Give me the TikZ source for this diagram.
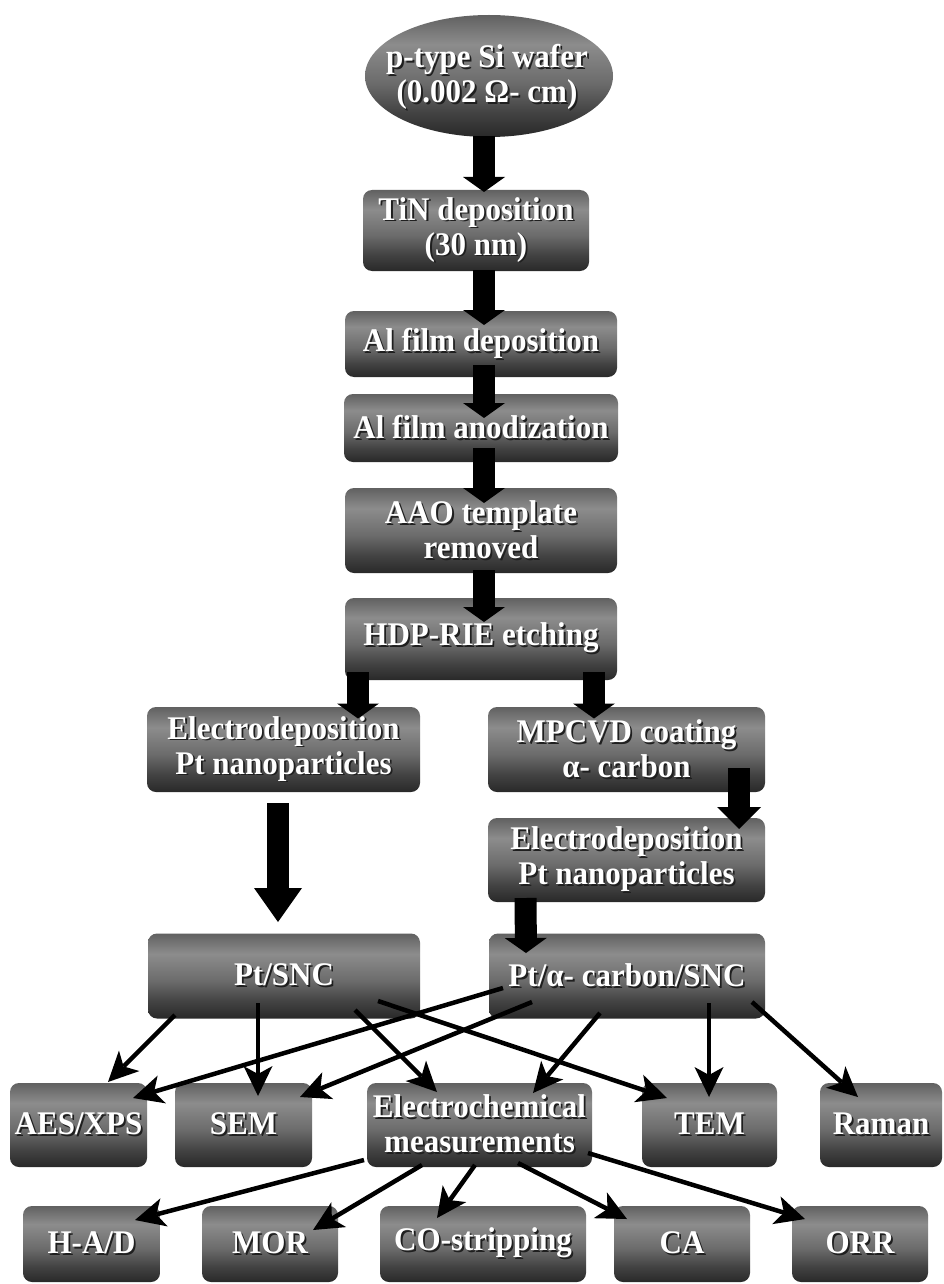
\documentclass[tikz,border=0pt]{standalone}
\usepackage{fontspec}
\setmainfont{Liberation Serif}[FakeStretch=0.94]
\usetikzlibrary{arrows.meta,calc}

% grey levels of the box shading (bottom to top)
\definecolor{shA}{gray}{0.16}
\definecolor{shB}{gray}{0.26}
\definecolor{shC}{gray}{0.42}
\definecolor{shD}{gray}{0.55}
\definecolor{shE}{gray}{0.38}
\definecolor{txtshadow}{gray}{0.12}
\pgfdeclareverticalshading{boxshade}{100bp}{color(0bp)=(shA); color(25bp)=(shA); color(35bp)=(shB); color(47bp)=(shC); color(63bp)=(shD); color(75bp)=(shE); color(100bp)=(shE)}

% white lettering with a dark drop shadow
\newcommand\sh[1]{\makebox[0pt][l]{\kern1.8pt\raisebox{-1.8pt}{\color{txtshadow}#1}}#1}

\tikzset{
  lbl/.style={text=white, font=\bfseries\fontsize{33}{35}\selectfont, align=center, inner sep=0pt},
  box/.style={lbl, rectangle, rounded corners=9pt, shading=boxshade},
  big/.style={line width=22pt, -{Triangle[width=42pt,length=15pt,line width=0pt]}},
  bigm/.style={line width=22pt, -{Triangle[width=44pt,length=22pt,line width=0pt]}},
  bigl/.style={line width=22pt, -{Triangle[width=48pt,length=34pt,line width=0pt]}},
  thin/.style={line width=4.5pt, -{Stealth[length=30pt,width=29pt,inset=8pt,line width=0pt]}}
}

\begin{document}
\begin{tikzpicture}[x=1pt,y=-1pt]
\useasboundingbox (0,0) rectangle (944,1284);
\fill[white] (0,0) rectangle (944,1284);

% starting wafer
\shade[shading=boxshade] (489,76) ellipse [x radius=124pt, y radius=61pt];
\node[lbl] (wafer) at (487,78) {\sh{p-type Si wafer}\\\sh{(0.002 Ω- cm)}};

% process chain
\node[box, minimum width=226pt, minimum height=81pt] (tin)   at (476,230.5) {\sh{TiN deposition}\\\sh{(30 nm)}};
\node[box, minimum width=272pt, minimum height=66pt] (aldep) at (481,344)   {\sh{Al film deposition}};
\node[box, minimum width=274pt, minimum height=68pt] (alano) at (481,428)   {\sh{Al film anodization}};
\node[box, minimum width=272pt, minimum height=85pt] (aao)   at (481,530.5) {\sh{AAO template}\\\sh{removed}};
\node[box, minimum width=272pt, minimum height=82pt] (hdp)   at (481,639)   {\sh{HDP-RIE etching}};

\node[box, minimum width=273pt, minimum height=85pt] (ed1)   at (283.5,749.5) {\sh{Electrodeposition}\\\sh{Pt nanoparticles}};
\node[box, minimum width=277pt, minimum height=85pt] (mpcvd) at (626.5,749.5) {\sh{MPCVD coating}\\\sh{α- carbon}};
\node[box, minimum width=277pt, minimum height=84pt] (ed2)   at (626.5,860)   {\sh{Electrodeposition}\\\sh{Pt nanoparticles}};

\node[box, minimum width=272pt, minimum height=85pt] (ptsnc) at (284,976)   {\sh{Pt/SNC}};
\node[box, minimum width=276pt, minimum height=85pt] (ptac)  at (627,976) {\sh{Pt/α- carbon/SNC}};

% characterisation
\node[box, minimum width=137pt, minimum height=84pt] (aes)   at (78.5,1125)  {\sh{AES/XPS}};
\node[box, minimum width=137pt, minimum height=84pt] (sem)   at (243.5,1125) {\sh{SEM}};
\node[box, minimum width=225pt, minimum height=84pt] (ec)    at (479.5,1125) {\sh{Electrochemical}\\\sh{measurements}};
\node[box, minimum width=135pt, minimum height=84pt] (tem)   at (709.5,1125) {\sh{TEM}};
\node[box, minimum width=122pt, minimum height=84pt] (raman) at (881,1125)   {\sh{Raman}};

\node[box, minimum width=137pt, minimum height=76pt] (had) at (91.5,1244) {\sh{H-A/D}};
\node[box, minimum width=136pt, minimum height=76pt] (mor) at (270,1244)  {\sh{MOR}};
\node[box, minimum width=206pt, minimum height=76pt] (co)  at (483,1244)  {\sh{CO-stripping}};
\node[box, minimum width=136pt, minimum height=76pt] (ca)  at (682,1244)  {\sh{CA}};
\node[box, minimum width=136pt, minimum height=76pt] (orr) at (860,1244)  {\sh{ORR}};

% block arrows of the fabrication route
\draw[big] ($(wafer)+(-3,58)$) -- ($(tin)+(8,-38.5)$);
\draw[big] ($(tin)+(8,39.5)$) -- ($(aldep)+(3,-19)$);
\draw[big] ($(aldep)+(3,21)$) -- ($(alano)+(3,-10)$);
\draw[big] ($(alano)+(3,20)$) -- ($(aao)+(3,-27.5)$);
\draw[big] ($(aao)+(3,39.5)$) -- ($(hdp)+(3,-17)$);
\draw[big] ($(hdp)+(-123,33)$) -- ($(ed1)+(74.5,-31)$);
\draw[big] ($(hdp)+(113,33)$) -- ($(mpcvd)+(-32.5,-31)$);
\draw[bigm] ($(mpcvd)+(112.5,18.5)$) -- ($(ed2)+(112.5,-31)$);
\draw[bigl] ($(ed1)+(-5.5,53.5)$) -- ($(ptsnc)+(-6,-54)$);
\draw[big] ($(ed2)+(-101,38)$) -- ($(ptac)+(-101,-23)$);

% analysis links
\draw[thin] ($(ptsnc)+(-109,39)$) -- ($(aes)+(29.5,-43)$);
\draw[thin] ($(ptsnc)+(-26,27)$) -- ($(sem)+(14.5,-29)$);
\draw[thin] ($(ptsnc)+(71,34)$) -- ($(ec)+(-42.5,-33)$);
\draw[thin] ($(ptsnc)+(94,25)$) -- ($(tem)+(-42.5,-27)$);
\draw[thin] ($(ptac)+(-124,12)$) -- ($(aes)+(54.5,-27)$);
\draw[thin] ($(ptac)+(-95,26)$) -- ($(sem)+(56.5,-28)$);
\draw[thin] ($(ptac)+(-27,37)$) -- ($(ec)+(53.5,-32)$);
\draw[thin] ($(ptac)+(82,27)$) -- ($(tem)+(-0.5,-28)$);
\draw[thin] ($(ptac)+(125,26)$) -- ($(raman)+(-23,-28)$);

\draw[thin] ($(ec)+(-115.5,35)$) -- ($(had)+(43.5,-24)$);
\draw[thin] ($(ec)+(-57.5,40)$) -- ($(mor)+(43,-14)$);
\draw[thin] ($(ec)+(-4.5,40)$) -- ($(co)+(-46,-26)$);
\draw[thin] ($(ec)+(38.5,38)$) -- ($(ca)+(-55,-25)$);
\draw[thin] ($(ec)+(108.5,28)$) -- ($(orr)+(-55,-25)$);
\end{tikzpicture}
\end{document}
